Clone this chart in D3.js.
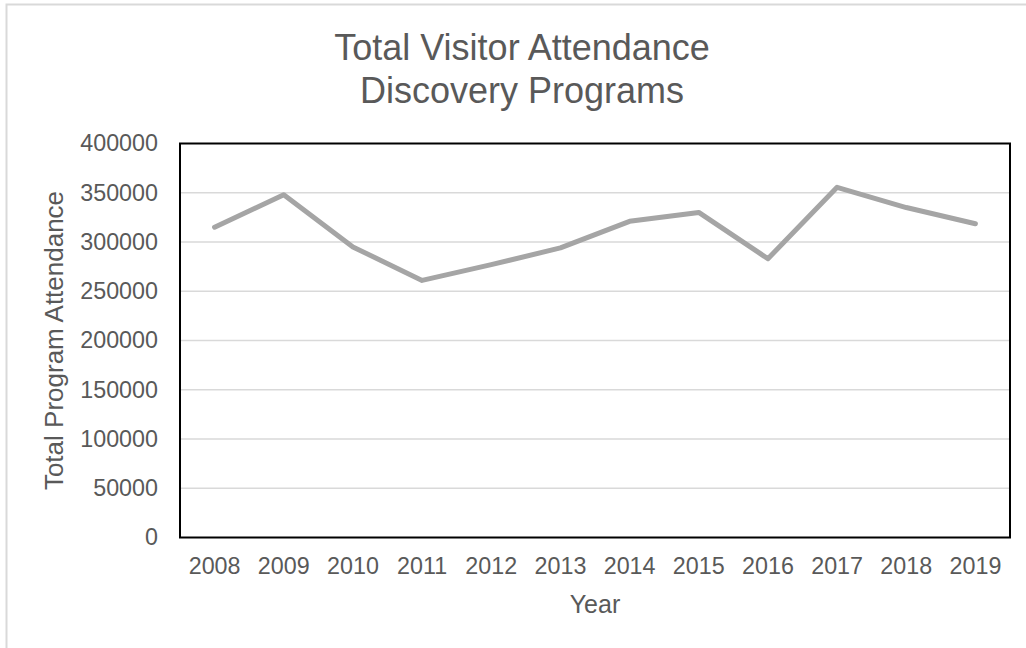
<!DOCTYPE html>
<html><head><meta charset="utf-8">
<script src="https://cdn.jsdelivr.net/npm/d3@7"></script>
<style>html,body{margin:0;padding:0;background:#fff;}svg{display:block;}</style>
</head><body>
<svg id="c" width="1026" height="648"></svg>
<script>
const years = ["2008","2009","2010","2011","2012","2013","2014","2015","2016","2017","2018","2019"];
const attendance = [315000,348000,295000,261000,277000,294000,321000,330000,283000,355500,335000,318500];
const yTicks = [0,50000,100000,150000,200000,250000,300000,350000,400000];
const titleLines = ["Total Visitor Attendance","Discovery Programs"];
const xTitle = "Year";
const yTitle = "Total Program Attendance";

const svg = d3.select("#c");
const font = "'Liberation Sans', Arial, sans-serif";
const txt = "#595959";
const m = {left:180, top:143.5, right:1010, bottom:537.5};

// outer chart border (only left/top visible)
svg.append("path").attr("d","M6.5,648 L6.5,4.5 L1026,4.5").attr("fill","none").attr("stroke","#d9d9d9").attr("stroke-width",2);

const x = d3.scaleBand().domain(years).range([m.left,m.right]).padding(0);
const y = d3.scaleLinear().domain([0,400000]).range([m.bottom,m.top]);

// gridlines
svg.append("g").selectAll("line").data(yTicks.filter(d=>d>0 && d<400000)).join("line")
  .attr("x1",m.left).attr("x2",m.right).attr("y1",d=>y(d)).attr("y2",d=>y(d))
  .attr("stroke","#d9d9d9").attr("stroke-width",1.5);

// y axis labels
const ya = svg.append("g").attr("transform",`translate(${m.left},0)`)
  .call(d3.axisLeft(y).tickValues(yTicks).tickSize(0).tickPadding(22).tickFormat(d=>String(d)));
ya.select(".domain").remove();
ya.selectAll("text").attr("font-family",font).attr("font-size",23.3).attr("fill",txt);

// x axis labels
const xa = svg.append("g").attr("transform",`translate(0,${m.bottom})`)
  .call(d3.axisBottom(x).tickSize(0).tickPadding(20));
xa.select(".domain").remove();
xa.selectAll("text").attr("font-family",font).attr("font-size",23.3).attr("fill",txt);

// line
svg.append("path").datum(attendance)
  .attr("d", d3.line().x((d,i)=>x(years[i])+x.bandwidth()/2).y(d=>y(d)))
  .attr("fill","none").attr("stroke","#a5a5a5").attr("stroke-width",5)
  .attr("stroke-linejoin","round").attr("stroke-linecap","round");

// plot box
svg.append("rect").attr("x",m.left).attr("y",m.top).attr("width",m.right-m.left).attr("height",m.bottom-m.top)
  .attr("fill","none").attr("stroke","#000").attr("stroke-width",2);

// title
svg.append("g").selectAll("text").data(titleLines).join("text")
  .attr("x",(m.left+m.right)/2 - 73).attr("y",(d,i)=>60 + i*43)
  .attr("text-anchor","middle").attr("font-family",font).attr("font-size",36).attr("fill",txt).text(d=>d);

svg.append("text").attr("x",(m.left+m.right)/2).attr("y",612.5).attr("text-anchor","middle")
  .attr("font-family",font).attr("font-size",25).attr("fill",txt).text(xTitle);

svg.append("text").attr("transform",`translate(63,${(m.top+m.bottom)/2}) rotate(-90)`).attr("text-anchor","middle")
  .attr("font-family",font).attr("font-size",26).attr("fill",txt).text(yTitle);
</script>
</body></html>
